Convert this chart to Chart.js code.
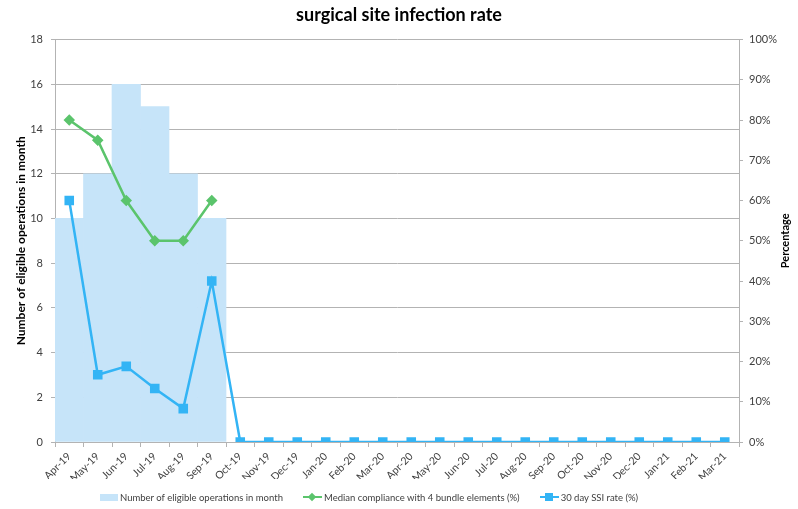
<!DOCTYPE html>
<html>
<head>
<meta charset="utf-8">
<script src="https://cdn.jsdelivr.net/npm/chart.js@4/dist/chart.umd.min.js"></script>
<style>
  html, body { margin: 0; padding: 0; background: #fff; }
  #wrap { position: relative; width: 798px; height: 509px; }
  #legend { position: absolute; left: 100px; top: 490px; display: flex; align-items: center;
    font: 9.5px Lato, sans-serif; color: #404040; white-space: nowrap; }
  #legend .item { display: flex; align-items: center; height: 14px; margin-right: 20px; }
  .swatch-bar { display: inline-block; width: 18px; height: 7px; background: #c6e4f9; margin-right: 2px; }
  .swatch-line { position: relative; display: inline-block; width: 19px; height: 14px; margin-right: 2px; }
  .swatch-line i { position: absolute; left: 0; right: 0; top: 6px; height: 2px; }
  .swatch-line b { position: absolute; left: 6px; top: 4px; width: 6px; height: 6px; }
</style>
</head>
<body>
<div id="wrap">
  <canvas id="ssiChart" width="798" height="509"></canvas>
  <div id="legend">
    <span class="item"><span class="swatch-bar"></span>Number of eligible operations in month</span>
    <span class="item"><span class="swatch-line"><i style="background:#5bc46c"></i><b style="background:#5bc46c;transform:rotate(45deg)"></b></span>Median compliance with 4 bundle elements (%)</span>
    <span class="item"><span class="swatch-line"><i style="background:#33b4f5"></i><b style="background:#33b4f5;left:5px;top:3px;width:8px;height:8px"></b></span>30 day SSI rate (%)</span>
  </div>
</div>
<script>
// surgical site infection rate - monthly
const months = ["Apr-19", "May-19", "Jun-19", "Jul-19", "Aug-19", "Sep-19", "Oct-19", "Nov-19",
  "Dec-19", "Jan-20", "Feb-20", "Mar-20", "Apr-20", "May-20", "Jun-20", "Jul-20", "Aug-20",
  "Sep-20", "Oct-20", "Nov-20", "Dec-20", "Jan-21", "Feb-21", "Mar-21"];

const operations = [10, 12, 16, 15, 12, 10, null, null, null, null, null, null,
  null, null, null, null, null, null, null, null, null, null, null, null];

const compliance = [80, 75, 60, 50, 50, 60, null, null, null, null, null, null,
  null, null, null, null, null, null, null, null, null, null, null, null];

const ssiRate = [60, 16.7, 18.8, 13.3, 8.3, 40, 0, 0, 0, 0, 0, 0,
  0, 0, 0, 0, 0, 0, 0, 0, 0, 0, 0, 0];

const leftTicks = [0, 18, 2];
const rightTicks = [0, 100, 10];

const gridGrey = "#b3b3b3";
const textGrey = "#404040";

// right axis title reads bottom-to-top like the left one
const rightTitle = {
  id: "rightTitle",
  afterDraw(chart) {
    const { ctx, chartArea } = chart;
    ctx.save();
    ctx.translate(785, (chartArea.top + chartArea.bottom) / 2);
    ctx.rotate(-Math.PI / 2);
    ctx.font = "bold 11px Lato";
    ctx.fillStyle = "#000";
    ctx.textAlign = "center";
    ctx.textBaseline = "middle";
    ctx.fillText("Percentage", 0, 0);
    ctx.restore();
  }
};

new Chart(document.getElementById("ssiChart").getContext("2d"), {
  type: "bar",
  data: {
    labels: months,
    datasets: [
      {
        type: "line",
        label: "30 day SSI rate (%)",
        data: ssiRate,
        yAxisID: "y1",
        borderColor: "#33b4f5",
        backgroundColor: "#33b4f5",
        borderWidth: 2.5,
        pointStyle: "rect",
        pointRadius: 5,
        pointHoverRadius: 5,
        tension: 0,
        order: 1
      },
      {
        type: "line",
        label: "Median compliance with 4 bundle elements (%)",
        data: compliance,
        yAxisID: "y1",
        borderColor: "#5bc46c",
        backgroundColor: "#5bc46c",
        borderWidth: 2.5,
        pointStyle: "rectRot",
        pointRadius: 4,
        pointHoverRadius: 4,
        tension: 0,
        spanGaps: false,
        order: 2
      },
      {
        label: "Number of eligible operations in month",
        data: operations,
        yAxisID: "y",
        backgroundColor: "#c6e4f9",
        barPercentage: 1,
        categoryPercentage: 1,
        order: 3
      }
    ]
  },
  options: {
    responsive: false,
    animation: false,
    layout: { padding: { top: 0, bottom: 30, left: 0, right: 0 } },
    plugins: {
      legend: { display: false },
      tooltip: { enabled: false },
      title: {
        display: true,
        text: "surgical site infection rate",
        color: "#000",
        font: { family: "Lato", size: 18, weight: "bold" },
        padding: { top: 4, bottom: 14 }
      }
    },
    scales: {
      x: {
        offset: true,
        grid: { drawOnChartArea: false, drawTicks: true, tickLength: 5, color: gridGrey, offset: true },
        border: { color: gridGrey },
        ticks: { color: textGrey, font: { family: "Lato", size: 10.5 }, minRotation: 45, maxRotation: 45, autoSkip: false },
        afterFit: s => { s.height = 37; }
      },
      y: {
        position: "left",
        min: leftTicks[0],
        max: leftTicks[1],
        ticks: { stepSize: leftTicks[2], color: textGrey, font: { family: "Lato", size: 11 }, padding: 8 },
        grid: { color: gridGrey, tickLength: 4 },
        border: { color: gridGrey },
        title: {
          display: true,
          text: "Number of eligible operations in month",
          color: "#000",
          font: { family: "Lato", size: 12, weight: "bold" },
          padding: { top: 14, bottom: 2 }
        },
        afterFit: s => { s.width = 55; }
      },
      y1: {
        position: "right",
        min: rightTicks[0],
        max: rightTicks[1],
        ticks: { stepSize: rightTicks[2], color: textGrey, font: { family: "Lato", size: 11 }, padding: 6,
          callback: v => v + "%" },
        grid: { drawOnChartArea: false, color: gridGrey, tickLength: 4 },
        border: { color: gridGrey },
        afterFit: s => { s.width = 59; }
      }
    }
  },
  plugins: [rightTitle]
});
</script>
</body>
</html>
